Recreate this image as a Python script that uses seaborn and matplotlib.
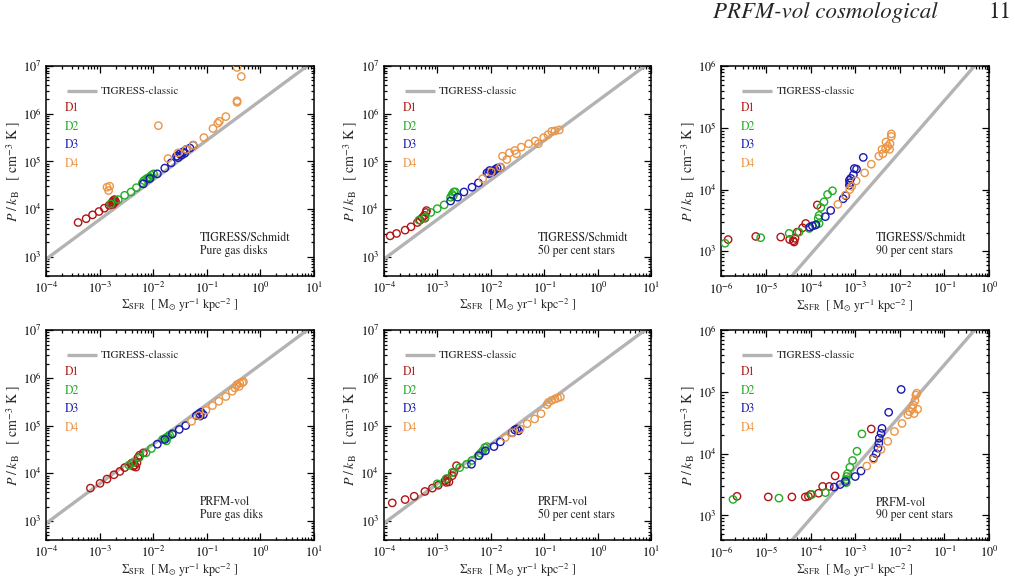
import numpy as np
import pandas as pd
import matplotlib
matplotlib.use('Agg')
import matplotlib.pyplot as plt
import matplotlib.ticker as mticker
import seaborn as sns

# log10 values: x = Sigma_SFR, y = P/k_B
# top row: TIGRESS/Schmidt, bottom row: PRFM-vol

# --- TIGRESS/Schmidt, pure gas disks
sg_d1_x = [-3.40, -3.25, -3.13, -3.01, -2.91, -2.82, -2.78, -2.76, -2.74, -2.72, -2.70, -2.75, -2.73]
sg_d1_y = [3.72, 3.80, 3.88, 3.95, 4.02, 4.08, 4.12, 4.15, 4.18, 4.20, 4.16, 4.10, 4.14]
sg_d2_x = [-2.79, -2.65, -2.53, -2.41, -2.31, -2.20, -2.17, -2.12, -2.07, -2.03, -1.99, -2.10, -2.05]
sg_d2_y = [4.11, 4.20, 4.29, 4.36, 4.45, 4.55, 4.60, 4.64, 4.67, 4.71, 4.74, 4.62, 4.66]
sg_d3_x = [-2.18, -2.06, -1.92, -1.78, -1.66, -1.56, -1.50, -1.44, -1.38, -1.31, -1.25, -1.53, -1.47, -1.41]
sg_d3_y = [4.53, 4.64, 4.74, 4.86, 4.97, 5.11, 5.16, 5.20, 5.25, 5.28, 5.34, 5.08, 5.13, 5.17]
sg_d4_x = [-2.86, -2.81, -2.83, -1.90, -1.72, -1.53, -1.38, -1.25, -1.05, -0.88, -0.79, -0.76, -0.64, -0.43, -0.43, -0.35, -0.43]
sg_d4_y = [4.46, 4.48, 4.39, 5.75, 5.06, 5.18, 5.25, 5.34, 5.50, 5.69, 5.80, 5.84, 5.94, 6.27, 6.24, 6.78, 6.97]

# --- TIGRESS/Schmidt, 50 per cent stars
s50_d1_x = [-3.88, -3.76, -3.60, -3.49, -3.37, -3.32, -3.28, -3.24, -3.21, -3.20, -3.23]
s50_d1_y = [3.44, 3.49, 3.56, 3.63, 3.72, 3.77, 3.82, 3.87, 3.93, 3.97, 3.81]
s50_d2_x = [-3.34, -3.23, -3.12, -3.00, -2.87, -2.75, -2.72, -2.69, -2.66, -2.70]
s50_d2_y = [3.77, 3.82, 3.93, 4.01, 4.09, 4.25, 4.31, 4.36, 4.36, 4.28]
s50_d3_x = [-2.75, -2.62, -2.50, -2.35, -2.23, -2.07, -2.02, -1.97, -1.92, -1.88, -1.82, -2.04, -1.95]
s50_d3_y = [4.17, 4.25, 4.36, 4.46, 4.55, 4.76, 4.81, 4.78, 4.83, 4.86, 4.88, 4.74, 4.80]
s50_d4_x = [-2.15, -1.99, -1.82, -1.78, -1.70, -1.65, -1.55, -1.52, -1.43, -1.29, -1.17, -1.11, -1.01, -0.93, -0.86, -0.80, -0.72]
s50_d4_y = [4.64, 4.78, 4.88, 5.11, 5.04, 5.18, 5.23, 5.16, 5.30, 5.37, 5.43, 5.37, 5.50, 5.56, 5.63, 5.64, 5.66]

# --- TIGRESS/Schmidt, 90 per cent stars
s90_d1_x = [-5.85, -5.23, -4.67, -4.47, -4.39, -4.35, -4.37, -4.30, -4.18, -4.11, -3.85]
s90_d1_y = [3.19, 3.24, 3.23, 3.19, 3.17, 3.21, 3.15, 3.31, 3.38, 3.45, 3.75]
s90_d2_x = [-5.92, -5.12, -4.48, -4.26, -4.03, -3.90, -3.81, -3.83, -3.81, -3.77, -3.70, -3.62, -3.51]
s90_d2_y = [3.13, 3.22, 3.29, 3.31, 3.37, 3.42, 3.45, 3.53, 3.58, 3.71, 3.80, 3.92, 3.98]
s90_d3_x = [-4.02, -3.96, -3.88, -3.67, -3.55, -3.27, -3.21, -3.13, -3.12, -3.13, -3.10, -3.04, -3.02, -2.97, -2.82]
s90_d3_y = [3.39, 3.41, 3.43, 3.56, 3.66, 3.85, 3.90, 4.07, 4.11, 4.15, 4.18, 4.24, 4.34, 4.33, 4.52]
s90_d4_x = [-3.39, -3.22, -3.12, -3.08, -2.98, -2.79, -2.64, -2.47, -2.38, -2.32, -2.27, -2.23, -2.22, -2.19, -2.19, -2.31, -2.40]
s90_d4_y = [3.76, 3.91, 4.00, 4.05, 4.14, 4.27, 4.41, 4.54, 4.58, 4.66, 4.70, 4.65, 4.74, 4.90, 4.86, 4.77, 4.65]

# --- PRFM-vol, pure gas disks
pg_d1_x = [-3.17, -2.99, -2.86, -2.73, -2.62, -2.53, -2.40, -2.34, -2.30, -2.37, -2.32, -2.28, -2.25, -2.18]
pg_d1_y = [3.69, 3.79, 3.88, 3.97, 4.04, 4.12, 4.21, 4.17, 4.22, 4.15, 4.13, 4.33, 4.38, 4.43]
pg_d2_x = [-2.45, -2.38, -2.26, -2.13, -2.03, -1.82, -1.78, -1.74, -1.69, -1.64, -1.75, -1.72]
pg_d2_y = [4.17, 4.22, 4.33, 4.43, 4.52, 4.71, 4.73, 4.75, 4.80, 4.84, 4.68, 4.77]
pg_d3_x = [-1.92, -1.78, -1.64, -1.51, -1.39, -1.19, -1.14, -1.10, -1.06, -1.12]
pg_d3_y = [4.61, 4.71, 4.82, 4.92, 5.00, 5.21, 5.25, 5.28, 5.23, 5.20]
pg_d4_x = [-1.28, -1.14, -1.01, -0.89, -0.77, -0.64, -0.52, -0.47, -0.43, -0.38, -0.33, -0.31, -0.39]
pg_d4_y = [5.09, 5.21, 5.32, 5.42, 5.51, 5.61, 5.72, 5.79, 5.86, 5.89, 5.90, 5.92, 5.82]

# --- PRFM-vol, 50 per cent stars
p50_d1_x = [-3.84, -3.60, -3.43, -3.23, -3.09, -2.98, -2.85, -2.81, -2.78, -2.83, -2.72, -2.69, -2.64]
p50_d1_y = [3.38, 3.45, 3.52, 3.62, 3.69, 3.75, 3.85, 3.88, 3.82, 3.81, 3.95, 4.02, 4.16]
p50_d2_x = [-3.00, -2.83, -2.72, -2.58, -2.45, -2.35, -2.23, -2.19, -2.15, -2.11, -2.07]
p50_d2_y = [3.78, 3.89, 4.02, 4.12, 4.19, 4.27, 4.37, 4.42, 4.47, 4.54, 4.56]
p50_d3_x = [-2.36, -2.22, -2.10, -1.94, -1.82, -1.60, -1.55, -1.51, -1.48]
p50_d3_y = [4.19, 4.37, 4.47, 4.56, 4.66, 4.85, 4.91, 4.93, 4.89]
p50_d4_x = [-1.73, -1.59, -1.45, -1.32, -1.18, -1.06, -0.95, -0.92, -0.86, -0.80, -0.75, -0.70]
p50_d4_y = [4.75, 4.85, 4.93, 5.04, 5.14, 5.25, 5.44, 5.49, 5.53, 5.56, 5.58, 5.60]

# --- PRFM-vol, 90 per cent stars
p90_d1_x = [-5.65, -4.95, -4.42, -4.12, -4.05, -4.00, -3.82, -3.73, -3.58, -3.45, -2.64]
p90_d1_y = [3.31, 3.30, 3.30, 3.30, 3.31, 3.34, 3.36, 3.47, 3.47, 3.64, 4.40]
p90_d2_x = [-5.74, -4.71, -3.97, -3.67, -3.21, -3.19, -3.17, -3.20, -3.12, -3.06, -2.96, -2.85]
p90_d2_y = [3.26, 3.28, 3.34, 3.37, 3.58, 3.63, 3.68, 3.53, 3.78, 3.89, 4.04, 4.32]
p90_d3_x = [-3.47, -3.34, -3.22, -3.00, -2.87, -2.59, -2.53, -2.49, -2.47, -2.46, -2.42, -2.40, -2.25, -1.97]
p90_d3_y = [3.46, 3.50, 3.55, 3.63, 3.72, 3.93, 4.00, 4.09, 4.17, 4.25, 4.33, 4.41, 4.67, 5.04]
p90_d4_x = [-2.74, -2.59, -2.42, -2.27, -2.12, -1.95, -1.82, -1.78, -1.72, -1.70, -1.66, -1.64, -1.62, -1.68, -1.60]
p90_d4_y = [3.80, 3.91, 4.07, 4.20, 4.36, 4.49, 4.63, 4.68, 4.73, 4.79, 4.86, 4.95, 4.98, 4.65, 4.72]

# TIGRESS-classic relation (log P/k = zero + slope * log Sigma_SFR)
TIGRESS_ZERO = 6.27
TIGRESS_SLOPE = 0.83

SIMS = ['D1', 'D2', 'D3', 'D4']
SIM_COLOURS = ['#b01515', '#22ad22', '#1a1ab0', '#eb9546']
LINE_GREY = '#b3b3b3'

PANELS = [
    ('TIGRESS/Schmidt\nPure gas disks', [sg_d1_x, sg_d2_x, sg_d3_x, sg_d4_x], [sg_d1_y, sg_d2_y, sg_d3_y, sg_d4_y], 'wide'),
    ('TIGRESS/Schmidt\n50 per cent stars', [s50_d1_x, s50_d2_x, s50_d3_x, s50_d4_x], [s50_d1_y, s50_d2_y, s50_d3_y, s50_d4_y], 'wide'),
    ('TIGRESS/Schmidt\n90 per cent stars', [s90_d1_x, s90_d2_x, s90_d3_x, s90_d4_x], [s90_d1_y, s90_d2_y, s90_d3_y, s90_d4_y], 'low'),
    ('PRFM-vol\nPure gas diks', [pg_d1_x, pg_d2_x, pg_d3_x, pg_d4_x], [pg_d1_y, pg_d2_y, pg_d3_y, pg_d4_y], 'wide'),
    ('PRFM-vol\n50 per cent stars', [p50_d1_x, p50_d2_x, p50_d3_x, p50_d4_x], [p50_d1_y, p50_d2_y, p50_d3_y, p50_d4_y], 'wide'),
    ('PRFM-vol\n90 per cent stars', [p90_d1_x, p90_d2_x, p90_d3_x, p90_d4_x], [p90_d1_y, p90_d2_y, p90_d3_y, p90_d4_y], 'low'),
]

LIMITS = {
    'wide': ((1e-4, 1e1), (4e2, 1e7)),
    'low': ((1e-6, 1e0), (4e2, 1e6)),
}


def panel_frame(xs, ys):
    rows = []
    for sim, lx, ly in zip(SIMS, xs, ys):
        for a, b in zip(lx, ly):
            rows.append((sim, 10 ** a, 10 ** b))
    return pd.DataFrame(rows, columns=['sim', 'sfr', 'pressure'])


def draw_panel(ax, label, xs, ys, kind):
    (x0, x1), (y0, y1) = LIMITS[kind]
    ax.set_xscale('log')
    ax.set_yscale('log')

    lx = np.array([np.log10(x0), np.log10(x1)])
    ax.plot(10 ** lx, 10 ** (TIGRESS_ZERO + TIGRESS_SLOPE * lx), color=LINE_GREY, lw=2.4, zorder=1,
            solid_capstyle='butt')

    df = panel_frame(xs, ys)
    sns.scatterplot(data=df, x='sfr', y='pressure', hue='sim', hue_order=SIMS,
                    palette=SIM_COLOURS, s=28, marker='o', linewidth=1.0, legend=False,
                    ax=ax, zorder=3)
    pts = ax.collections[-1]
    fc = pts.get_facecolors()
    pts.set_edgecolors(fc)
    pts.set_facecolors('none')

    ax.set_xlim(x0, x1)
    ax.set_ylim(y0, y1)

    ax.xaxis.set_major_locator(mticker.LogLocator(base=10, numticks=20))
    ax.yaxis.set_major_locator(mticker.LogLocator(base=10, numticks=20))
    ax.xaxis.set_minor_locator(mticker.LogLocator(base=10, subs=np.arange(2, 10), numticks=50))
    ax.yaxis.set_minor_locator(mticker.LogLocator(base=10, subs=np.arange(2, 10), numticks=50))
    ax.xaxis.set_minor_formatter(mticker.NullFormatter())
    ax.yaxis.set_minor_formatter(mticker.NullFormatter())
    ax.tick_params(which='both', direction='in', top=True, right=True, width=0.9, labelsize=8.7)
    ax.tick_params(which='major', length=5)
    ax.tick_params(which='minor', length=2.5)
    for sp in ax.spines.values():
        sp.set_linewidth(1.1)

    ax.set_xlabel(r'$\Sigma_{\rm SFR}$  [ M$_{\odot}$ yr$^{-1}$ kpc$^{-2}$ ]', fontsize=8.7, labelpad=1)
    ax.set_ylabel(r'$P\;/\;k_{\rm B}$   [ cm$^{-3}$ K ]', fontsize=10, labelpad=0)

    # legend-like key
    ax.plot([0.078, 0.19], [0.881, 0.881], transform=ax.transAxes, color=LINE_GREY, lw=2.4,
            solid_capstyle='butt')
    ax.text(0.205, 0.881, 'TIGRESS-classic', transform=ax.transAxes, va='center', ha='left', fontsize=8)
    for i, (sim, col) in enumerate(zip(SIMS, SIM_COLOURS)):
        ax.text(0.071, 0.798 - 0.088 * i, sim, color=col, transform=ax.transAxes,
                va='center', ha='left', fontsize=8.5)

    ax.text(0.576, 0.148, label, transform=ax.transAxes, va='center', ha='left',
            fontsize=8.5, linespacing=1.05)


sns.set_theme(style='ticks')
plt.rcParams['font.family'] = ['STIXGeneral', 'DejaVu Serif']
plt.rcParams['mathtext.fontset'] = 'stix'
plt.rcParams['axes.edgecolor'] = 'black'
plt.rcParams['xtick.color'] = 'black'
plt.rcParams['ytick.color'] = 'black'

fig, axes = plt.subplots(2, 3, figsize=(10.15, 5.78), dpi=100)
fig.subplots_adjust(left=0.0453, right=0.9744, bottom=0.0657, top=0.8858, wspace=0.262, hspace=0.259)

for ax, (label, xs, ys, kind) in zip(axes.flat, PANELS):
    draw_panel(ax, label, xs, ys, kind)

fig.text(0.7025, 0.979, 'PRFM-vol cosmological', style='italic', fontsize=16.5, ha='left', va='center')
fig.text(0.9855, 0.979, '11', fontsize=16.5, ha='center', va='center')

fig.savefig('out.png', dpi=100)
plt.close(fig)
